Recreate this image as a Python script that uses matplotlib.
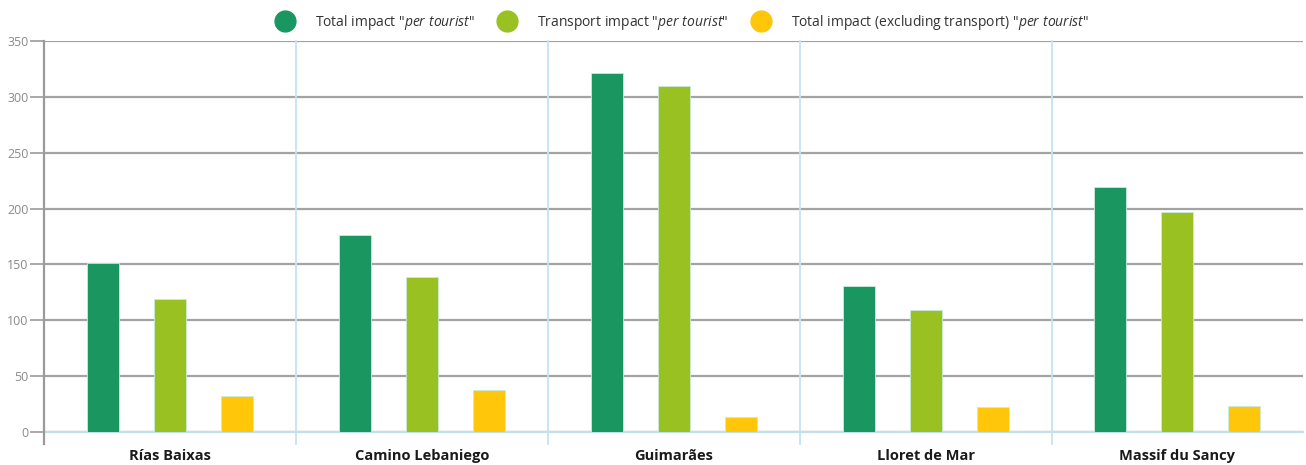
import matplotlib
matplotlib.use('Agg')
import matplotlib.pyplot as plt
from matplotlib.lines import Line2D
import numpy as np

plt.rcParams['font.family'] = ['Open Sans', 'DejaVu Sans']
plt.rcParams['mathtext.fontset'] = 'custom'
plt.rcParams['mathtext.rm'] = 'Open Sans'
plt.rcParams['mathtext.it'] = 'Open Sans:italic'

# data
places = ['Rías Baixas', 'Camino Lebaniego', 'Guimarães', 'Lloret de Mar', 'Massif du Sancy']
total = [151, 176, 321, 131, 219]
transport = [119, 139, 310, 109, 197]
excl_transport = [32, 38, 13, 22, 23]

series = ['Total impact "$\\it{per\\ tourist}$"',
          'Transport impact "$\\it{per\\ tourist}$"',
          'Total impact (excluding transport) "$\\it{per\\ tourist}$"']
colors = ['#1a9660', '#9ac122', '#ffc60a']

fig = plt.figure(figsize=(13.06, 4.65), dpi=100)
ax = fig.add_axes([0.0337, 0.071, 0.9643, 0.841])

x = np.arange(len(places))
offs = 0.266
w = 0.127
for i, (vals, c) in enumerate(zip([total, transport, excl_transport], colors)):
    ax.bar(x + (i - 1) * offs, vals, width=w, color=c, edgecolor='#c9ecd9', linewidth=0.6, zorder=3)

ax.set_xlim(-0.5, len(places) - 0.5)
ax.set_ylim(0, 350)
ax.set_yticks(np.arange(0, 351, 50))
ax.yaxis.grid(True, color='#a3a3a3', linewidth=1.6, zorder=1)
ax.set_axisbelow(True)

for s in ['top', 'right', 'left']:
    ax.spines[s].set_visible(False)
ax.spines['bottom'].set_color('#bfe0ef')
ax.spines['bottom'].set_linewidth(1.5)

# left axis line and category separators
ax.axvline(-0.5, ymin=-0.03, ymax=1, color='#9a9a9a', linewidth=1.6, clip_on=False, zorder=4)
for sep in x[:-1] + 0.5:
    ax.axvline(sep, ymin=-0.03, ymax=1, color='#c5e3f2', linewidth=1.3, clip_on=False, zorder=2)

ax.tick_params(axis='y', length=10, width=1.3, color='#a3a3a3', labelcolor='#8a8a8a', labelsize=9, pad=1)
ax.tick_params(axis='x', length=0, pad=12, labelsize=10.5)
ax.set_xticks(x)
ax.set_xticklabels(places, fontweight='bold', color='#1a1a1a')

handles = [Line2D([], [], marker='o', linestyle='', markersize=15, color=c) for c in colors]
fig.legend(handles, series, loc='upper center', bbox_to_anchor=(0.522, 1.0), ncol=3, frameon=False,
           fontsize=10, handletextpad=1.4, columnspacing=1.6, handlelength=1.5, labelcolor='#333333')

fig.savefig('out.png', dpi=100)
